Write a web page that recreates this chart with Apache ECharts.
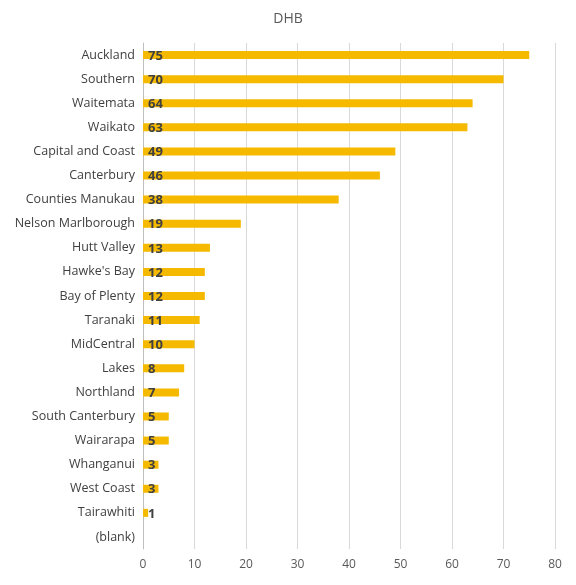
<!DOCTYPE html>
<html>
<head>
<meta charset="utf-8">
<script src="https://cdn.jsdelivr.net/npm/echarts@6/dist/echarts.min.js"></script>
<style>html,body{margin:0;padding:0;background:#fff}#main{width:576px;height:585px}</style>
</head>
<body>
<div id="main"></div>
<script>
var categories = ['Auckland', 'Southern', 'Waitemata', 'Waikato', 'Capital and Coast', 'Canterbury',
    'Counties Manukau', 'Nelson Marlborough', 'Hutt Valley', "Hawke's Bay", 'Bay of Plenty', 'Taranaki',
    'MidCentral', 'Lakes', 'Northland', 'South Canterbury', 'Wairarapa', 'Whanganui', 'West Coast',
    'Tairawhiti', '(blank)'];
var counts = [75, 70, 64, 63, 49, 46, 38, 19, 13, 12, 12, 11, 10, 8, 7, 5, 5, 3, 3, 1, null];

var chart = echarts.init(document.getElementById('main'));
chart.setOption({
    title: {
        text: 'DHB', left: 'center', top: 7,
        textStyle: { color: '#595959', fontSize: 14, fontWeight: 'normal', fontFamily: 'Open Sans' }
    },
    grid: { left: 143, right: 21, top: 43, bottom: 36 },
    xAxis: {
        type: 'value', min: 0, max: 80, interval: 10,
        axisLine: { show: false }, axisTick: { show: false },
        axisLabel: { color: '#595959', fontSize: 12, margin: 10, fontFamily: 'Open Sans' },
        splitLine: { lineStyle: { color: '#d9d9d9' } }
    },
    yAxis: {
        type: 'category', data: categories, inverse: true,
        axisLine: { lineStyle: { color: '#bfbfbf' } }, axisTick: { show: false },
        axisLabel: { color: '#404040', fontSize: 12.5, margin: 8, fontFamily: 'Open Sans' }
    },
    series: [{
        type: 'bar', data: counts, barWidth: 8,
        itemStyle: { color: '#F5BA00' },
        label: {
            show: true, position: 'insideLeft', offset: [0, 1],
            color: '#404040', fontWeight: 'bold', fontSize: 13, fontFamily: 'Open Sans'
        }
    }]
});
</script>
</body>
</html>
